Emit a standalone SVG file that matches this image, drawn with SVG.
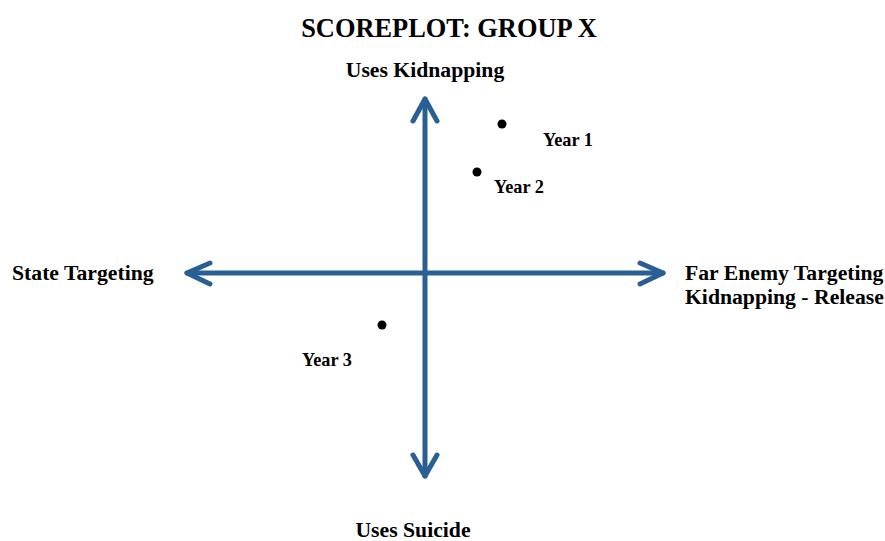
<svg xmlns="http://www.w3.org/2000/svg" width="885" height="541" viewBox="0 0 885 541">
<style>
.ax{fill:none;stroke:#2A5F93;stroke-width:5;stroke-linecap:round;stroke-linejoin:round}
.t{font-family:"Liberation Serif","Times New Roman",serif;font-weight:bold;fill:#000}
.lab{font-size:21.7px}
.yr{font-size:18.3px}
.dot{fill:#000}
</style>
<rect width="885" height="541" fill="#fff"/>
<text class="t" x="449" y="37" font-size="26.4" text-anchor="middle">SCOREPLOT: GROUP X</text>
<g id="connectors">
<line class="ax" x1="187" y1="273" x2="663" y2="273"/>
<polyline class="ax" points="210,263 187,273 210,284"/>
<polyline class="ax" points="640,263 663,273 640,284"/>
<line class="ax" x1="425" y1="99" x2="425" y2="476"/>
<polyline class="ax" points="413,121 425,99 437,121"/>
<polyline class="ax" points="413,455 425,476 437,455"/>
</g>
<g id="uses-kidnapping"><text class="t lab" x="425" y="77" text-anchor="middle">Uses Kidnapping</text></g>
<g id="uses-suicide"><text class="t lab" x="413" y="537" text-anchor="middle">Uses Suicide</text></g>
<g id="state-targeting"><text class="t lab" x="12" y="280">State Targeting</text></g>
<g id="far-enemy"><text class="t lab" x="685" y="280">Far Enemy Targeting</text><text class="t lab" x="685" y="304">Kidnapping - Release</text></g>
<g id="year1"><circle class="dot" cx="502" cy="124" r="4.5"/><text class="t yr" x="543" y="146">Year 1</text></g>
<g id="year2"><circle class="dot" cx="477" cy="172" r="4.5"/><text class="t yr" x="494" y="193">Year 2</text></g>
<g id="year3"><circle class="dot" cx="382" cy="325" r="4.5"/><text class="t yr" x="302" y="366">Year 3</text></g>
</svg>
